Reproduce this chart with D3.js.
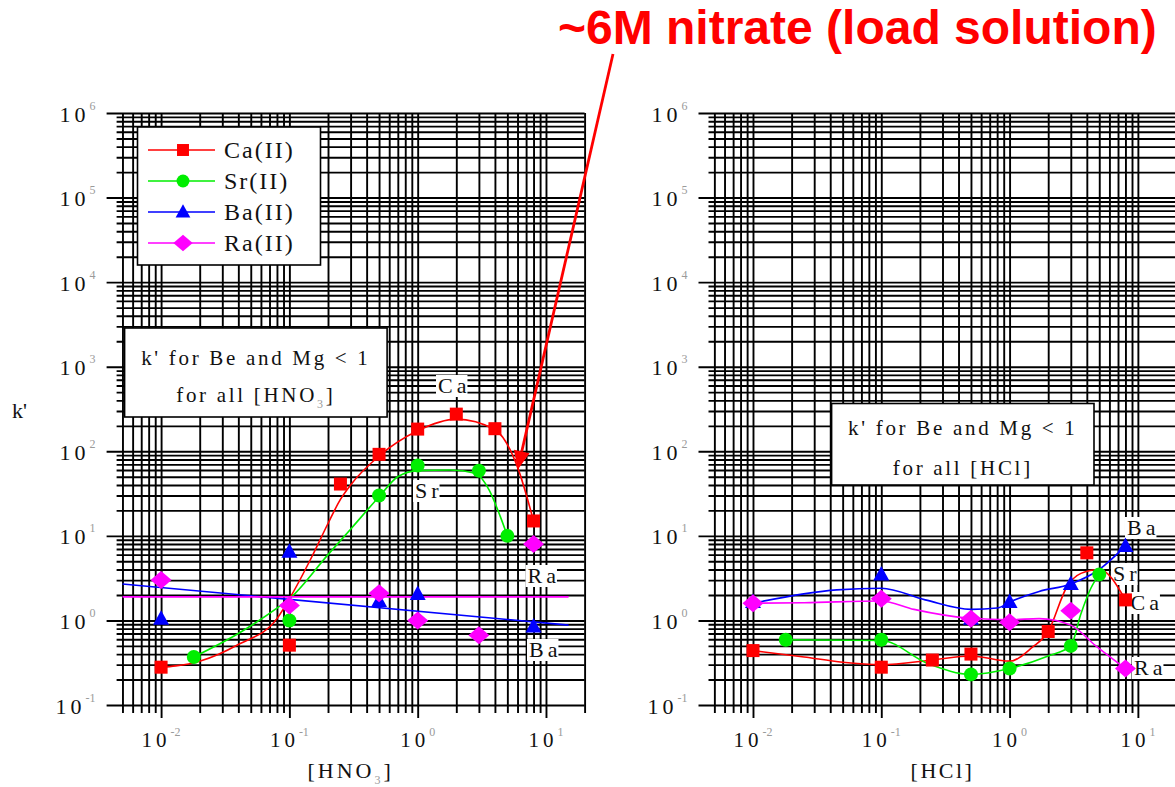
<!DOCTYPE html>
<html>
<head>
<meta charset="utf-8">
<script src="https://cdn.jsdelivr.net/npm/d3@7"></script>
<style>
  html, body { margin: 0; padding: 0; background: #fff; }
  svg { display: block; }
</style>
</head>
<body>
<svg id="chart" width="1175" height="787"></svg>
<script>
// ---- Data: [acid concentration (M), k'] ----
// HNO3 measured points
const hno3Ca = [[0.01, 0.28], [0.1, 0.51], [0.25, 41], [0.5, 92], [1, 183], [2, 275], [4, 185], [8, 15]];
const hno3Sr = [[0.018, 0.37], [0.1, 1.0], [0.5, 30], [1, 68], [3, 59], [5, 10]];
const hno3Ba = [[0.01, 1.05], [0.1, 6.5], [0.5, 1.7], [1, 2.05], [8, 0.85]];
const hno3Ra = [[0.01, 3.0], [0.1, 1.5], [0.5, 2.1], [1, 1.0], [3, 0.67], [8, 8.0]];
// HNO3 fitted trend curves
const hno3CaFit = [[0.01, 0.28], [0.013, 0.29], [0.02, 0.33], [0.04, 0.52], [0.08, 1.05], [0.1, 1.8], [0.15, 5.7], [0.2, 14], [0.25, 27], [0.3, 40], [0.5, 88], [1, 175], [2, 240], [4, 180], [6, 65], [8, 15]];
const hno3SrFit = [[0.018, 0.37], [0.04, 0.7], [0.08, 1.4], [0.1, 1.8], [0.2, 6], [0.3, 12], [0.5, 29], [0.7, 50], [1, 59], [1.8, 60], [2.8, 55], [3.6, 35], [4.4, 17], [5, 10]];
const hno3BaFit = [[0.005, 2.7], [15, 0.88]];
const hno3RaFit = [[0.005, 1.9], [15, 1.9]];

// HCl measured points
const hclCa = [[0.01, 0.44], [0.1, 0.28], [0.25, 0.34], [0.5, 0.40], [2, 0.74], [4, 6.3], [8, 1.75]];
const hclSr = [[0.018, 0.59], [0.1, 0.59], [0.5, 0.23], [1, 0.27], [3, 0.5], [5, 3.5]];
const hclBa = [[0.01, 1.65], [0.1, 3.5], [0.5, 1.05], [1, 1.65], [3, 2.7], [8, 7.6]];
const hclRa = [[0.01, 1.6], [0.1, 1.8], [0.5, 1.05], [1, 0.95], [3, 1.3], [8, 0.27]];
// HCl trend curves
const hclCaFit = [[0.01, 0.44], [0.025, 0.37], [0.05, 0.32], [0.1, 0.3], [0.25, 0.34], [0.5, 0.38], [1, 0.33], [1.5, 0.48], [2, 0.74], [2.8, 2.5], [3.6, 3.6], [5, 4.0], [8, 1.75]];
const hclSrFit = [[0.018, 0.59], [0.1, 0.58], [0.23, 0.31], [0.5, 0.23], [1, 0.27], [2, 0.38], [3, 0.5], [3.6, 1.2], [4.3, 2.4], [5, 3.5]];
const hclBaFit = [[0.01, 1.6], [0.045, 2.3], [0.1, 2.4], [0.22, 1.75], [0.5, 1.35], [0.8, 1.4], [1, 1.65], [1.7, 2.2], [3, 2.7], [5, 4.0], [8, 7.6]];
const hclRaFit = [[0.01, 1.6], [0.025, 1.62], [0.1, 1.7], [0.18, 1.35], [0.5, 1.06], [1, 1.02], [1.7, 1.05], [3, 0.88], [4.7, 0.5], [8, 0.27]];

// Axis labels
const xTickExps = [-2, -1, 0, 1];
const yTickExps = [-1, 0, 1, 2, 3, 4, 5, 6];
const legendNames = ["Ca(II)", "Sr(II)", "Ba(II)", "Ra(II)"];
const seriesColors = ["#ff0000", "#00ee00", "#0000ff", "#ff00ff"];
const seriesMarkers = ["square", "circle", "triangle", "diamond"];

const SERIF = "'Liberation Serif', 'Times New Roman', serif";
const svg = d3.select("#chart");

const yScale = d3.scaleLog().domain([0.1, 1e6]).range([705, 113]);
const isMajor = v => Math.abs(Math.log10(v) - Math.round(Math.log10(v))) < 1e-6;

function drawGrid(x) {
  const g = svg.append("g").attr("class", "grid");
  const [x0, x1] = x.range();
  const [yBot, yTop] = yScale.range();
  const xt = x.ticks(), yt = yScale.ticks();

  const vMinor = d3.axisBottom(x).tickValues(xt.filter(v => !isMajor(v))).tickSize(yBot - yTop + 8).tickFormat("");
  const vMajor = d3.axisBottom(x).tickValues(xt.filter(isMajor)).tickSize(yBot - yTop + 13).tickFormat("");
  g.append("g").attr("transform", `translate(0,${yTop})`).call(vMinor);
  g.append("g").attr("transform", `translate(0,${yTop})`).call(vMajor);

  const hMinor = d3.axisLeft(yScale).tickValues(yt.filter(v => !isMajor(v))).tickSize(x1 - x0).tickFormat("");
  const hMajor = d3.axisLeft(yScale).tickValues(yt.filter(isMajor)).tickSize(x1 - x0 + 10).tickFormat("");
  g.append("g").attr("transform", `translate(${x1},0)`).call(hMinor);
  g.append("g").attr("transform", `translate(${x1},0)`).call(hMajor);

  g.selectAll(".domain").remove();
  g.selectAll(".tick line").attr("stroke", "#000").attr("stroke-width", 1.9);
}

function drawTickLabels(x) {
  const [x0] = x.range();
  const g = svg.append("g").attr("font-family", SERIF).attr("fill", "#111");
  xTickExps.forEach(e => {
    const t = g.append("text").attr("x", x(Math.pow(10, e))).attr("y", 746.5)
      .attr("text-anchor", "middle").attr("font-size", 21);
    t.append("tspan").attr("letter-spacing", 4).text("10");
    t.append("tspan").attr("dy", -11).attr("font-size", 12).attr("fill", "#9a9a9a").text(String(e));
  });
  yTickExps.forEach(e => {
    const t = g.append("text").attr("x", x0 - 21).attr("y", yScale(Math.pow(10, e)) + 8.5)
      .attr("text-anchor", "end").attr("font-size", 22);
    t.append("tspan").attr("letter-spacing", 4).text("10");
    t.append("tspan").attr("dy", -12).attr("font-size", 12).attr("fill", "#9a9a9a").text(String(e));
  });
}

function drawMarker(g, type, color, px, py, big) {
  const s = big ? 1 : 0.92;
  if (type === "square") {
    g.append("rect").attr("x", px - 6.5 * s).attr("y", py - 6.5 * s)
      .attr("width", 13 * s).attr("height", 13 * s).attr("fill", color);
  } else if (type === "circle") {
    g.append("circle").attr("cx", px).attr("cy", py).attr("r", 7 * s).attr("fill", color);
  } else if (type === "triangle") {
    g.append("path").attr("d", `M${px},${py - 8.5 * s}L${px + 8 * s},${py + 6 * s}L${px - 8 * s},${py + 6 * s}Z`).attr("fill", color);
  } else {
    g.append("path").attr("d", `M${px},${py - 9 * s}L${px + 10.5 * s},${py}L${px},${py + 9 * s}L${px - 10.5 * s},${py}Z`).attr("fill", color);
  }
}

function whiteBox(x, y, w, h, border) {
  svg.append("rect").attr("x", x).attr("y", y).attr("width", w).attr("height", h)
    .attr("fill", "#fff").attr("stroke", border ? "#000" : "none").attr("stroke-width", 1.6);
}

function tagLabel(text, x, y) {
  const t = svg.append("text").attr("x", x).attr("y", y)
    .attr("font-family", SERIF).attr("font-size", 22).attr("letter-spacing", 4).attr("fill", "#111").text(text);
  const b = t.node().getBBox();
  svg.insert("rect", () => t.node()).attr("x", b.x - 2).attr("y", b.y + 2)
    .attr("width", b.width - 1).attr("height", b.height - 3).attr("fill", "#fff");
}

function drawSeries(x, fits, points) {
  const line = d3.line().x(d => x(d[0])).y(d => yScale(d[1]));
  fits.forEach((f, i) => {
    const straight = f.length === 2;
    svg.append("path").datum(f)
      .attr("d", line.curve(straight ? d3.curveLinear : d3.curveMonotoneX))
      .attr("fill", "none").attr("stroke", seriesColors[i]).attr("stroke-width", 1.6);
  });
  const g = svg.append("g");
  points.forEach((pts, i) => {
    pts.forEach(d => drawMarker(g, seriesMarkers[i], seriesColors[i], x(d[0]), yScale(d[1]), true));
  });
}

function noteBox(bx, by, bw, bh, line1Y, line2Y, acidParts) {
  whiteBox(bx, by, bw, bh, true);
  const cx = bx + bw / 2;
  const g = svg.append("g").attr("font-family", SERIF).attr("font-size", 21).attr("fill", "#111")
    .attr("letter-spacing", 2.7).attr("text-anchor", "middle");
  g.append("text").attr("x", cx).attr("y", line1Y).text("k' for Be and Mg < 1");
  const t = g.append("text").attr("x", cx).attr("y", line2Y);
  t.append("tspan").text("for all " + acidParts[0]);
  if (acidParts[1]) {
    t.append("tspan").attr("dy", 6).attr("font-size", 12).attr("fill", "#9a9a9a").text(acidParts[1]);
    t.append("tspan").attr("dy", -6).text(acidParts[2]);
  }
}

function axisTitle(x, parts, spacing) {
  const [x0, x1] = x.range();
  const t = svg.append("text").attr("x", (x0 + x1) / 2).attr("y", 777.5)
    .attr("text-anchor", "middle").attr("font-family", SERIF).attr("font-size", 22)
    .attr("letter-spacing", spacing).attr("fill", "#111");
  t.append("tspan").text(parts[0]);
  if (parts[1]) {
    t.append("tspan").attr("dy", 6).attr("font-size", 12).attr("fill", "#9a9a9a").text(parts[1]);
    t.append("tspan").attr("dy", -6).text(parts[2]);
  }
}

// ---- Left panel: HNO3 ----
const xL = d3.scaleLog().domain([0.0045, 20]).range([116.6, 584.6]);
drawGrid(xL);
drawTickLabels(xL);

// legend
whiteBox(137.5, 127, 183, 138, true);
legendNames.forEach((name, i) => {
  const ly = 150 + i * 31;
  svg.append("line").attr("x1", 148).attr("x2", 215).attr("y1", ly).attr("y2", ly)
    .attr("stroke", seriesColors[i]).attr("stroke-width", 1.6);
  drawMarker(svg.append("g"), seriesMarkers[i], seriesColors[i], 183, ly, false);
  svg.append("text").attr("x", 224).attr("y", ly + 8).attr("font-family", SERIF)
    .attr("font-size", 24).attr("letter-spacing", 2).attr("fill", "#111").text(name);
});

noteBox(124.6, 328, 262.5, 89, 365, 401.5, ["[HNO", "3", "]"]);
tagLabel("Ca", 438, 393);
tagLabel("Sr", 415, 498);
tagLabel("Ra", 527.5, 583);
tagLabel("Ba", 529, 657);
drawSeries(xL, [hno3CaFit, hno3SrFit, hno3BaFit, hno3RaFit], [hno3Ca, hno3Sr, hno3Ba, hno3Ra]);
axisTitle(xL, ["[HNO", "3", "]"], 3);

// ---- Right panel: HCl ----
const xR = d3.scaleLog().domain([0.0045, 20]).range([708.5, 1176.5]);
drawGrid(xR);
drawTickLabels(xR);
noteBox(831.6, 403.5, 262.4, 81.5, 435, 475, ["[HCl]"]);
tagLabel("Ba", 1127, 535);
tagLabel("Sr", 1113, 581);
tagLabel("Ca", 1130.5, 610);
tagLabel("Ra", 1134, 675);
drawSeries(xR, [hclCaFit, hclSrFit, hclBaFit, hclRaFit], [hclCa, hclSr, hclBa, hclRa]);
axisTitle(xR, ["[HCl]"], 2.5);

// y-axis title
svg.append("text").attr("x", 12).attr("y", 418).attr("font-family", SERIF)
  .attr("font-size", 22).attr("fill", "#111").text("k'");

// ---- Load-solution callout ----
const calloutColor = "#ff0000";
svg.append("text").attr("x", 558).attr("y", 43.5)
  .attr("font-family", "'Liberation Sans', Arial, sans-serif").attr("font-weight", "bold")
  .attr("font-size", 48).attr("fill", calloutColor).text("~6M nitrate (load solution)");

const arrowFrom = [613, 54];
const arrowTo = [xL(6), yScale(60)];
const ang = Math.atan2(arrowTo[1] - arrowFrom[1], arrowTo[0] - arrowFrom[0]);
const headLen = 19, headHalf = 8;
const base = [arrowTo[0] - headLen * Math.cos(ang), arrowTo[1] - headLen * Math.sin(ang)];
svg.append("line").attr("x1", arrowFrom[0]).attr("y1", arrowFrom[1])
  .attr("x2", base[0]).attr("y2", base[1]).attr("stroke", calloutColor).attr("stroke-width", 2.8);
svg.append("path").attr("fill", calloutColor).attr("d",
  `M${arrowTo[0]},${arrowTo[1]}` +
  `L${base[0] + headHalf * Math.sin(ang)},${base[1] - headHalf * Math.cos(ang)}` +
  `L${base[0] - headHalf * Math.sin(ang)},${base[1] + headHalf * Math.cos(ang)}Z`);
</script>
</body>
</html>
